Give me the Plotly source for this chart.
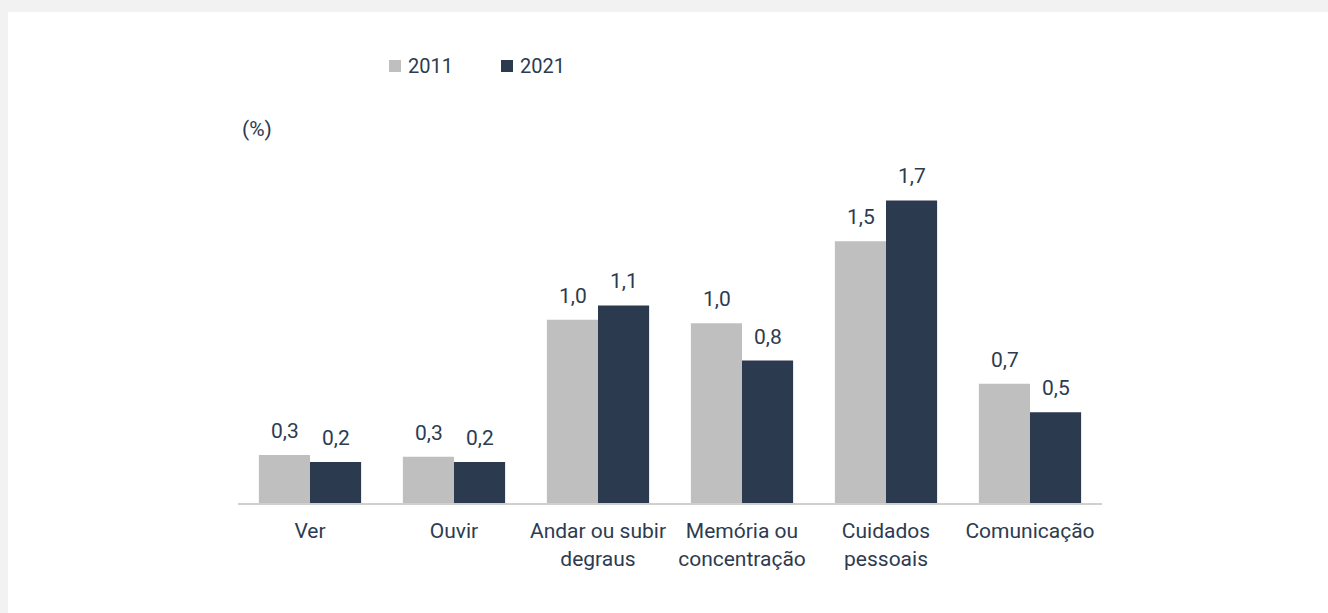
import plotly.graph_objects as go

# Population with difficulty, by type of functional limitation (%)
categories = ["Ver", "Ouvir", "Andar ou subir<br>degraus", "Memória ou<br>concentração",
              "Cuidados<br>pessoais", "Comunicação"]
years = ["2011", "2021"]
values_2011 = [0.27, 0.26, 1.03, 1.01, 1.47, 0.67]
values_2021 = [0.23, 0.23, 1.11, 0.80, 1.70, 0.51]
series = [values_2011, values_2021]

colors = ["#bfbfbf", "#2c3a4f"]
text_color = "#2d3b50"
font_family = "Roboto, 'Open Sans', sans-serif"

W, H = 1328, 613
L, R, T, B = 238, 226, 150, 110
plot_w = W - L - R
plot_h = H - T - B
y_max = 1.983


def px_x(x):
    return (x - L) / plot_w


def px_y(y):
    return (H - B - y) / plot_h


fig = go.Figure()

bar_px = 51  # width of one bar in pixels within its group
for i, (year, vals) in enumerate(zip(years, series)):
    fig.add_trace(go.Bar(
        x=categories, y=vals, name=year,
        marker=dict(color=colors[i], line=dict(width=0)),
        showlegend=False,
    ))
    # value labels above each bar
    for cat, v in zip(categories, vals):
        fig.add_annotation(
            x=cat, y=v, xref="x", yref="y",
            text=f"{v:.1f}".replace(".", ","),
            showarrow=False, yanchor="bottom",
            xshift=(i - 0.5) * bar_px, yshift=10,
            font=dict(family=font_family, size=21, color=text_color),
        )

# legend drawn as swatches + labels
legend_items = [(389, 406), (501, 518)]
for (sx, tx), year, col in zip(legend_items, years, colors):
    fig.add_shape(type="rect", xref="paper", yref="paper",
                  x0=px_x(sx), x1=px_x(sx + 12), y0=px_y(72), y1=px_y(60),
                  fillcolor=col, line=dict(width=0))
    fig.add_annotation(xref="paper", yref="paper", x=px_x(tx), y=px_y(66),
                       text=year, showarrow=False, xanchor="left", yanchor="middle",
                       font=dict(family=font_family, size=20, color=text_color))

# unit label
fig.add_annotation(xref="paper", yref="paper", x=px_x(240), y=px_y(129),
                   text="(%)", showarrow=False, xanchor="left", yanchor="middle",
                   font=dict(family=font_family, size=21, color=text_color))

# white panel over the light grey frame
fig.add_shape(type="rect", xref="paper", yref="paper", layer="below",
              x0=px_x(8), x1=px_x(W + 5), y0=px_y(H + 5), y1=px_y(12),
              fillcolor="white", line=dict(width=0))

fig.update_layout(
    width=W, height=H,
    margin=dict(l=L, r=R, t=T, b=B, autoexpand=False),
    paper_bgcolor="#f2f2f2", plot_bgcolor="white",
    barmode="group", bargap=0.29, bargroupgap=0,
    font=dict(family=font_family, size=21, color=text_color),
    xaxis=dict(type="category", showline=True, linecolor="#cfcfcf", linewidth=2,
               ticks="", showgrid=False, zeroline=False, ticklabelstandoff=8,
               tickfont=dict(family=font_family, size=21, color=text_color)),
    yaxis=dict(range=[0, y_max], visible=False, showgrid=False, zeroline=False),
)

fig.write_html("out.html")
